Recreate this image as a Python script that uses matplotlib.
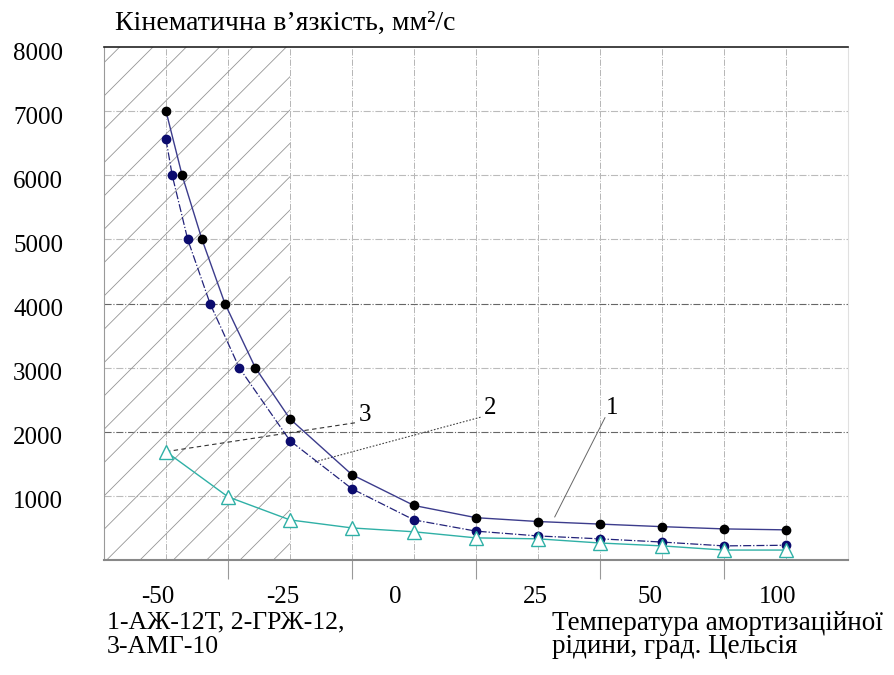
import matplotlib
matplotlib.use("Agg")
import matplotlib.pyplot as plt
import matplotlib.transforms as mtransforms

plt.rcParams['font.family'] = ['Liberation Serif', 'DejaVu Serif']
plt.rcParams['hatch.linewidth'] = 0.6

# positions along the temperature axis (one grid step per measurement)
x_azh = [1, 1.26, 1.58, 1.95, 2.44, 3, 4, 5, 6, 7, 8, 9, 10, 11]
v_azh = [7000, 6000, 5000, 4000, 3000, 2200, 1330, 850, 660, 600, 560, 520, 485, 470]

x_grzh = [1, 1.10, 1.35, 1.71, 2.18, 3, 4, 5, 6, 7, 8, 9, 10, 11]
v_grzh = [6560, 6000, 5000, 4000, 3000, 1860, 1110, 625, 450, 375, 330, 280, 220, 230]

x_amg = [1, 2, 3, 4, 5, 6, 7, 8, 9, 10, 11]
v_amg = [1690, 985, 625, 500, 440, 345, 330, 265, 220, 155, 155]

temp_labels = ['-50', '-25', '0', '25', '50', '100']
temp_label_pos = [0.87, 2.89, 4.69, 6.95, 8.81, 10.87]
y_ticks = [1000, 2000, 3000, 4000, 5000, 6000, 7000, 8000]

fig = plt.figure(figsize=(8.94, 6.75), dpi=100)
ax = fig.add_axes([104 / 894, 115 / 675, 744 / 894, 513 / 675])
ax.set_xlim(0, 12)
ax.set_ylim(0, 8000)

# low-temperature zone
ax.fill_between([0, 3], 0, 8000, facecolor='none', edgecolor='#959595',
                hatch='/', linewidth=0, zorder=1)

# grid
for gx in range(1, 12):
    ax.axvline(gx, color='#b5b5b5', lw=0.7, ls='-.', zorder=0)
for gy in y_ticks[:-1]:
    dark = gy in (2000, 4000)
    ax.axhline(gy, color='#666666' if dark else '#bbbbbb', lw=0.8, ls='-.', zorder=0)

# curves
ax.plot(x_azh, v_azh, color='#3c3c8c', lw=1.0, zorder=3)
ax.plot(x_azh, v_azh, 'o', color='black', ms=6, zorder=4)
ax.plot(x_grzh, v_grzh, color='#23237a', lw=0.9, ls='-.', zorder=3)
ax.plot(x_grzh, v_grzh, 'o', color='#0b0b6e', ms=6, zorder=4)
ax.plot(x_amg, v_amg, color='#2fb0a6', lw=1.0, zorder=3)
ax.plot(x_amg, v_amg, '^', mfc='white', mec='#2fb0a6', mew=1.0, ms=10, zorder=4)

# leader lines with curve numbers
ax.plot([1, 4.05], [1690, 2140], color='#333333', lw=0.8, ls=(0, (4, 3)), zorder=2)
ax.plot([3.40, 6.10], [1530, 2234], color='#444444', lw=0.8, ls=(0, (1.5, 1.5)), zorder=2)
ax.plot([7.27, 8.08], [672, 2219], color='#666666', lw=0.7, zorder=2)
ax.text(4.21, 2266, '3', fontsize=18, ha='center', va='center')
ax.text(6.23, 2375, '2', fontsize=18, ha='center', va='center')
ax.text(8.19, 2375, '1', fontsize=18, ha='center', va='center')

# axes frame
ax.spines['top'].set_color('#222222')
ax.spines['top'].set_linewidth(1.2)
ax.spines['bottom'].set_color('#888888')
ax.spines['bottom'].set_linewidth(1.5)
ax.spines['left'].set_color('#999999')
ax.spines['left'].set_linewidth(0.8)
ax.spines['right'].set_color('#e0e0e0')
ax.spines['right'].set_linewidth(0.8)

ax.set_yticks(y_ticks)
ax.set_yticklabels([str(v) for v in y_ticks], fontsize=18)
ax.tick_params(axis='y', length=0, pad=29.5)
offset = mtransforms.ScaledTranslation(0, -0.04, fig.dpi_scale_trans)
for lab in ax.get_yticklabels():
    lab.set_transform(lab.get_transform() + offset)

ax.set_xticks(temp_label_pos)
ax.set_xticklabels(temp_labels, fontsize=18)
ax.set_xticks([2, 4, 6, 8, 10], minor=True)
ax.tick_params(axis='x', which='major', length=0, pad=19)
ax.tick_params(axis='x', which='minor', length=14, width=0.8, color='#999999', direction='out')

fig.text(115 / 894, 1 - 30 / 675, 'Кінематична в’язкість, мм²/с', fontsize=20,
         ha='left', va='baseline')
fig.text(107 / 894, 1 - 628 / 675, '1-АЖ-12Т, 2-ГРЖ-12,', fontsize=18.5,
         ha='left', va='baseline')
fig.text(107 / 894, 1 - 653 / 675, '3-АМГ-10', fontsize=18.5, ha='left', va='baseline')
fig.text(552 / 894, 1 - 630 / 675, 'Температура амортизаційної', fontsize=19.5,
         ha='left', va='baseline')
fig.text(552 / 894, 1 - 653 / 675, 'рідини, град. Цельсія', fontsize=19.5,
         ha='left', va='baseline')

fig.savefig('out.png', dpi=100)
